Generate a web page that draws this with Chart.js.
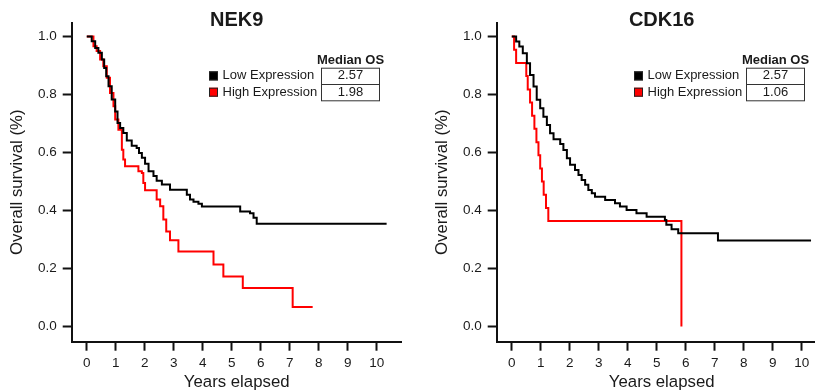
<!DOCTYPE html>
<html>
<head>
<meta charset="utf-8">
<script src="https://cdn.jsdelivr.net/npm/chart.js@4.4.1/dist/chart.umd.min.js"></script>
<style>
  body { margin: 0; background: #fff; }
  #wrap { position: relative; width: 815px; height: 392px; overflow: hidden; }
  canvas { position: absolute; top: 0; }
  #nek9 { left: 0; }
  #cdk16 { left: 425px; }
</style>
</head>
<body>
<div id="wrap">
  <canvas id="nek9" width="425" height="392"></canvas>
  <canvas id="cdk16" width="425" height="392"></canvas>
</div>
<script>
// tick labels
const xTicks = [0, 1, 2, 3, 4, 5, 6, 7, 8, 9, 10];
const yTicks = [0, 0.2, 0.4, 0.6, 0.8, 1.0];
const groups = ['Low Expression', 'High Expression'];

// NEK9 survival curves (years, survival)
const nek9LowT = [0, 0.17, 0.29, 0.40, 0.52, 0.60, 0.67, 0.75, 0.86, 0.98, 1.06, 1.15, 1.26, 1.38, 1.55, 1.72, 1.80, 1.90, 2.01, 2.13, 2.30, 2.41, 2.59, 2.87, 3.45, 3.56, 3.68, 3.85, 3.97, 5.29, 5.63, 5.75, 5.86, 10.34];
const nek9LowS = [1, 0.984, 0.961, 0.944, 0.921, 0.892, 0.863, 0.829, 0.783, 0.742, 0.702, 0.685, 0.668, 0.642, 0.624, 0.616, 0.599, 0.582, 0.562, 0.536, 0.519, 0.503, 0.49, 0.472, 0.455, 0.438, 0.431, 0.424, 0.414, 0.397, 0.391, 0.375, 0.355, 0.355];
const nek9HighT = [0, 0.23, 0.34, 0.46, 0.57, 0.69, 0.80, 0.92, 0.98, 1.09, 1.21, 1.26, 1.32, 1.78, 1.90, 1.95, 2.01, 2.41, 2.53, 2.64, 2.74, 2.87, 3.16, 4.37, 4.71, 5.38, 7.10, 7.79];
const nek9HighS = [1, 0.967, 0.95, 0.921, 0.898, 0.858, 0.806, 0.76, 0.714, 0.679, 0.61, 0.576, 0.553, 0.536, 0.53, 0.495, 0.47, 0.438, 0.415, 0.369, 0.328, 0.298, 0.259, 0.214, 0.173, 0.133, 0.068, 0.068];
const nek9Median = ['2.57', '1.98'];

// CDK16 survival curves
const cdk16LowT = [0, 0.15, 0.26, 0.38, 0.52, 0.63, 0.75, 0.86, 0.98, 1.09, 1.21, 1.32, 1.44, 1.67, 1.78, 1.90, 2.01, 2.18, 2.30, 2.41, 2.53, 2.64, 2.76, 2.87, 3.22, 3.56, 3.73, 3.96, 4.30, 4.65, 5.28, 5.33, 5.51, 5.74, 7.11, 10.32];
const cdk16LowS = [1, 0.983, 0.966, 0.943, 0.908, 0.868, 0.828, 0.782, 0.753, 0.724, 0.695, 0.667, 0.646, 0.63, 0.609, 0.581, 0.558, 0.54, 0.523, 0.506, 0.489, 0.471, 0.46, 0.448, 0.437, 0.425, 0.414, 0.402, 0.391, 0.379, 0.368, 0.351, 0.336, 0.322, 0.297, 0.297];
const cdk16HighT = [0, 0.08, 0.15, 0.50, 0.55, 0.63, 0.70, 0.78, 0.85, 0.92, 0.98, 1.04, 1.10, 1.18, 1.26, 5.85];
const cdk16HighS = [1, 0.955, 0.909, 0.864, 0.818, 0.773, 0.727, 0.682, 0.636, 0.591, 0.545, 0.5, 0.455, 0.409, 0.364, 0];
const cdk16Median = ['2.57', '1.06'];

const FONT = '"Liberation Sans", Arial, Helvetica, sans-serif';
const TEXT = '#1a1a1a';
const colors = ['#000000', '#ff0000'];

function toPoints(ts, ss) {
    return ts.map((t, i) => ({ x: t, y: ss[i] }));
}

// title + "Median OS" legend table
const kmDecor = {
    id: 'kmDecor',
    afterDraw(chart, args, opts) {
        const ctx = chart.ctx;
        const area = chart.chartArea;
        ctx.save();
        ctx.fillStyle = TEXT;
        ctx.textAlign = 'center';
        ctx.textBaseline = 'middle';
        ctx.font = 'bold 20px ' + FONT;
        ctx.fillText(opts.title, (area.left + area.right) / 2, 20.5);

        ctx.font = 'bold 13px ' + FONT;
        ctx.fillText('Median OS', 350.5, 60);

        const rows = [67.7, 84];
        groups.forEach((g, i) => {
            const y0 = rows[i];
            const cy = y0 + 8.2;
            // swatch
            ctx.fillStyle = colors[i];
            ctx.fillRect(209, cy - 4.5, 9, 9);
            ctx.strokeStyle = '#222';
            ctx.lineWidth = 1;
            ctx.strokeRect(209.5, cy - 4, 8, 8);
            // label
            ctx.fillStyle = TEXT;
            ctx.font = '13px ' + FONT;
            ctx.textAlign = 'left';
            ctx.fillText(g, 222.5, cy);
            // value box
            ctx.strokeStyle = '#333';
            ctx.strokeRect(321.5, y0 + 0.5, 58, 16.3);
            ctx.textAlign = 'center';
            ctx.fillText(opts.medians[i], 350.5, cy);
        });
        ctx.restore();
    }
};

function makeChart(id, title, lowT, lowS, highT, highS, medians) {
    return new Chart(document.getElementById(id), {
        type: 'line',
        data: {
            datasets: [
                { label: groups[0], data: toPoints(lowT, lowS), borderColor: colors[0] },
                { label: groups[1], data: toPoints(highT, highS), borderColor: colors[1] }
            ]
        },
        options: {
            responsive: false,
            animation: false,
            layout: { padding: { left: 0, right: 23.3, top: 22.7, bottom: 0 } },
            elements: {
                line: { borderWidth: 2, stepped: true, fill: false },
                point: { radius: 0 }
            },
            plugins: {
                legend: { display: false },
                tooltip: { enabled: false },
                kmDecor: { title: title, medians: medians }
            },
            scales: {
                x: {
                    type: 'linear',
                    min: -0.52,
                    max: 10.86,
                    afterBuildTicks: s => { s.ticks = xTicks.map(v => ({ value: v })); },
                    afterFit: s => { s.height = 50.3; },
                    grid: { drawOnChartArea: false, drawTicks: true, tickLength: 9, tickWidth: 2, tickColor: '#111' },
                    border: { display: true, color: '#111', width: 2 },
                    ticks: { color: TEXT, font: { family: FONT, size: 13.5 }, padding: 4, maxRotation: 0, autoSkip: false },
                    title: { display: true, text: 'Years elapsed', color: TEXT, font: { family: FONT, size: 16.8 }, padding: { top: 0, bottom: 0 } }
                },
                y: {
                    type: 'linear',
                    min: -0.052,
                    max: 1.048,
                    afterBuildTicks: s => { s.ticks = yTicks.map(v => ({ value: v })); },
                    afterFit: s => { s.width = 71.7; },
                    grid: { drawOnChartArea: false, drawTicks: true, tickLength: 9, tickWidth: 2, tickColor: '#111' },
                    border: { display: true, color: '#111', width: 2 },
                    ticks: { color: TEXT, font: { family: FONT, size: 13.5 }, padding: 6, callback: v => v.toFixed(1) },
                    title: { display: true, text: 'Overall survival (%)', color: TEXT, font: { family: FONT, size: 16.8 }, padding: { top: 7.5, bottom: 0 } }
                }
            }
        },
        plugins: [kmDecor]
    });
}

makeChart('nek9', 'NEK9', nek9LowT, nek9LowS, nek9HighT, nek9HighS, nek9Median);
makeChart('cdk16', 'CDK16', cdk16LowT, cdk16LowS, cdk16HighT, cdk16HighS, cdk16Median);
</script>
</body>
</html>
